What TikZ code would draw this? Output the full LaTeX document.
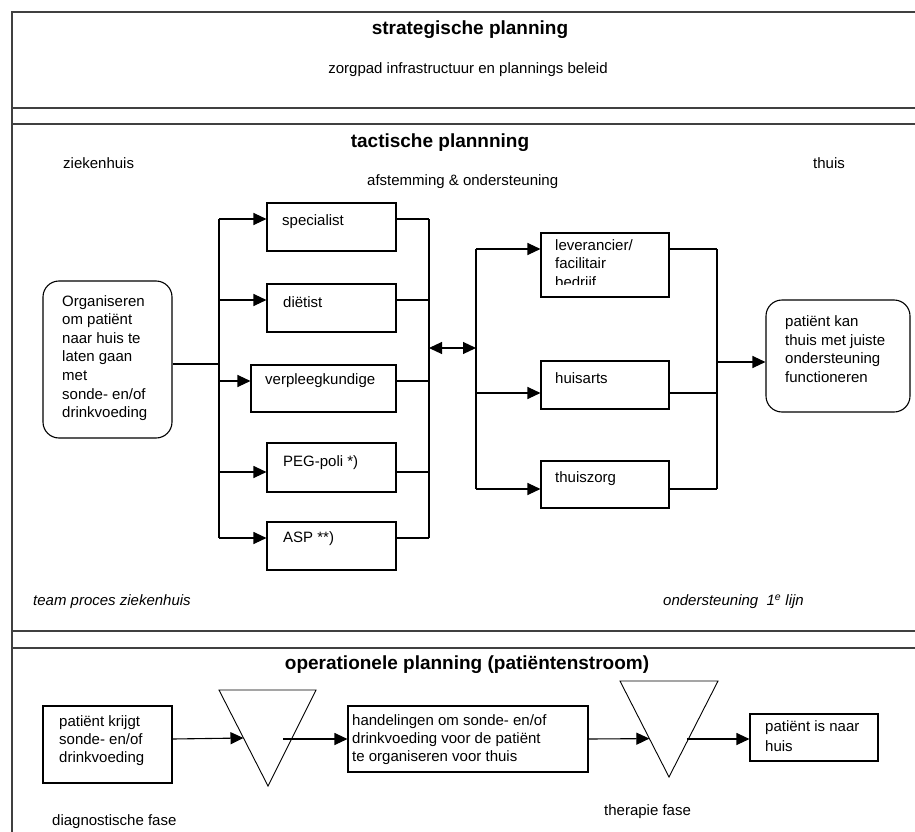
\documentclass[tikz,border=0pt]{standalone}
\usepackage{fontspec}
\setmainfont{Liberation Sans}
\usetikzlibrary{arrows.meta,calc}
\begin{document}
\begin{tikzpicture}[x=1pt,y=-1pt,
  frame/.style={line width=1.3pt, draw=black!75},
  box/.style={draw, line width=1.1pt, rectangle, inner sep=0pt},
  rbox/.style={box, rounded corners=16pt},
  txt/.style={inner sep=0pt, anchor=west, align=left, font=\fontsize{15}{18.6}\selectfont},
  ttl/.style={inner sep=0pt, font=\fontsize{19}{22}\selectfont\bfseries},
  itl/.style={inner sep=0pt, anchor=west, font=\fontsize{15}{18}\selectfont\itshape},
  conn/.style={line width=1.1pt},
  arr/.style={conn, -{Triangle[length=13pt,width=12pt]}},
  darr/.style={conn, {Triangle[length=13pt,width=12pt]}-{Triangle[length=13pt,width=12pt]}},
  tri/.style={line width=0.9pt}
]
\useasboundingbox (0,0) rectangle (915,832);
% ---------- frame ----------
\draw[frame] (915,12) -- (12,12) -- (12,832);
\draw[frame] (12,108) -- (915,108);
\draw[frame] (12,124) -- (915,124);
\draw[frame] (12,631) -- (915,631);
\draw[frame] (12,648) -- (915,648);

% ---------- strategic ----------
\node[ttl] (stt) at (470,30) {strategische planning};
\node[txt, anchor=center] (sts) at (468,70) {zorgpad infrastructuur en plannings beleid};

% ---------- tactical ----------
\node[ttl] (tat) at (440,143) {tactische plannning};
\node[txt] (zkh) at (63,163) {ziekenhuis};
\node[txt] (afs) at (367,182) {afstemming \& ondersteuning};
\node[txt] (thu) at (813,163) {thuis};

\node[rbox, minimum width=129pt, minimum height=157pt] (org) at (107.5,359.5) {};
\node[txt] (orgT) at (62,358) {Organiseren\\om patiënt\\naar huis te\\laten gaan\\met\\sonde- en/of\\drinkvoeding};

\node[box, minimum width=129pt, minimum height=48pt] (spec) at (331.5,227) {};
\node[txt] (specT) at (282,222) {specialist};
\node[box, minimum width=129pt, minimum height=48pt] (diet) at (331.5,308) {};
\node[txt] (dietT) at (283,302) {diëtist};
\node[box, minimum width=145pt, minimum height=47pt] (verp) at (323.5,388.5) {};
\node[txt] (verpT) at (265,381) {verpleegkundige};
\node[box, minimum width=129pt, minimum height=49pt] (peg) at (331.5,467.5) {};
\node[txt] (pegT) at (283,463) {PEG-poli *)};
\node[box, minimum width=129pt, minimum height=48pt] (asp) at (331.5,546) {};
\node[txt] (aspT) at (283,539) {ASP **)};

\node[box, minimum width=128pt, minimum height=64pt] (lev) at (605,265) {};
\begin{scope}
  \clip (541,233) rectangle (669,284);
  \node[txt] (levT) at (555,265) {leverancier/\\facilitair\\bedrijf};
\end{scope}
\node[box, minimum width=128pt, minimum height=48pt] (ha) at (605,385) {};
\node[txt] (haT) at (555,378) {huisarts};
\node[box, minimum width=128pt, minimum height=47pt] (tz) at (605,484.5) {};
\node[txt] (tzT) at (555,479) {thuiszorg};

\node[rbox, minimum width=144pt, minimum height=112pt] (pat) at (838,356) {};
\node[txt] (patT) at (785,349) {patiënt kan\\thuis met juiste\\ondersteuning\\functioneren};

\node[itl] (tpz) at (33,602) {team proces ziekenhuis};
\node[itl] (o1l) at (663,602) {ondersteuning \ 1\textsuperscript{e} lijn};

% bus coordinates
\coordinate (lbm) at (219,364);
\coordinate (lb1) at (219,219);
\coordinate (lb2) at (219,300);
\coordinate (lb3) at (219,381);
\coordinate (lb4) at (219,472);
\coordinate (lb5) at (219,538);
\coordinate (rb1) at (429,219);
\coordinate (rb2) at (429,300);
\coordinate (rb3) at (429,381);
\coordinate (rb4) at (429,472);
\coordinate (rb5) at (429,538);
\coordinate (rbm) at (429,348);
\coordinate (gbm) at (476,348);
\coordinate (gb1) at (476,249);
\coordinate (gb2) at (476,393);
\coordinate (gb3) at (476,489);
\coordinate (cb1) at (717,249);
\coordinate (cb2) at (717,393);
\coordinate (cb3) at (717,489);
\coordinate (cbm) at (717,362);

% connectors left group
\draw[conn] (lbm -| org.east) -- (lbm);
\draw[conn] (lb1) -- (lb5);
\draw[arr] (lb1) -- (lb1 -| spec.west);
\draw[arr] (lb2) -- (lb2 -| diet.west);
\draw[arr] (lb3) -- (lb3 -| verp.west);
\draw[arr] (lb4) -- (lb4 -| peg.west);
\draw[arr] (lb5) -- (lb5 -| asp.west);
\draw[conn] (rb1 -| spec.east) -- (rb1);
\draw[conn] (rb2 -| diet.east) -- (rb2);
\draw[conn] (rb3 -| verp.east) -- (rb3);
\draw[conn] (rb4 -| peg.east) -- (rb4);
\draw[conn] (rb5 -| asp.east) -- (rb5);
\draw[conn] (rb1) -- (rb5);
\draw[darr] (rbm) -- (gbm);

% connectors right group
\draw[conn] (gb1) -- (gb3);
\draw[arr] (gb1) -- (gb1 -| lev.west);
\draw[arr] (gb2) -- (gb2 -| ha.west);
\draw[arr] (gb3) -- (gb3 -| tz.west);
\draw[conn] (cb1 -| lev.east) -- (cb1);
\draw[conn] (cb2 -| ha.east) -- (cb2);
\draw[conn] (cb3 -| tz.east) -- (cb3);
\draw[conn] (cb1) -- (cb3);
\draw[arr] (cbm) -- (cbm -| pat.west);

% ---------- operational ----------
\node[ttl] (opt) at (467,665) {operationele planning (patiëntenstroom)};

\node[box, minimum width=129pt, minimum height=77pt] (pk) at (107.5,744.5) {};
\node[txt, font=\fontsize{15}{18}\selectfont] (pkT) at (59,741) {patiënt krijgt\\sonde- en/of\\drinkvoeding};

\coordinate (t1l) at (219,690);
\coordinate (t1r) at (316,690);
\coordinate (t1a) at (268,786);
\draw[tri] (t1l) -- (t1r) -- (t1a) -- cycle;

\node[box, minimum width=240pt, minimum height=66pt] (hand) at (468,739) {};
\node[txt, font=\fontsize{15}{18}\selectfont] (handT) at (352,740) {handelingen om sonde- en/of\\drinkvoeding voor de patiënt\\te organiseren voor thuis};

\coordinate (t2l) at (620,681);
\coordinate (t2r) at (718,681);
\coordinate (t2a) at (669,777);
\draw[tri] (t2l) -- (t2r) -- (t2a) -- cycle;

\node[box, minimum width=128pt, minimum height=47pt] (pn) at (814,737.5) {};
\node[txt, font=\fontsize{15}{20}\selectfont] (pnT) at (765,736) {patiënt is naar\\huis};

\node[txt] (dfa) at (52,822) {diagnostische fase};
\node[txt] (tfa) at (604,812) {therapie fase};

\coordinate (s1) at (283,739);
\coordinate (s2) at (687,739);
\draw[arr] (pk.east |- s1) -- ($(t1l)!0.5!(t1a)$);
\draw[arr] (s1) -- (s1 -| hand.west);
\draw[arr] (s1 -| hand.east) -- ($(t2l)!0.6!(t2a)$);
\draw[arr] (s2) -- (s2 -| pn.west);
\end{tikzpicture}
\end{document}
